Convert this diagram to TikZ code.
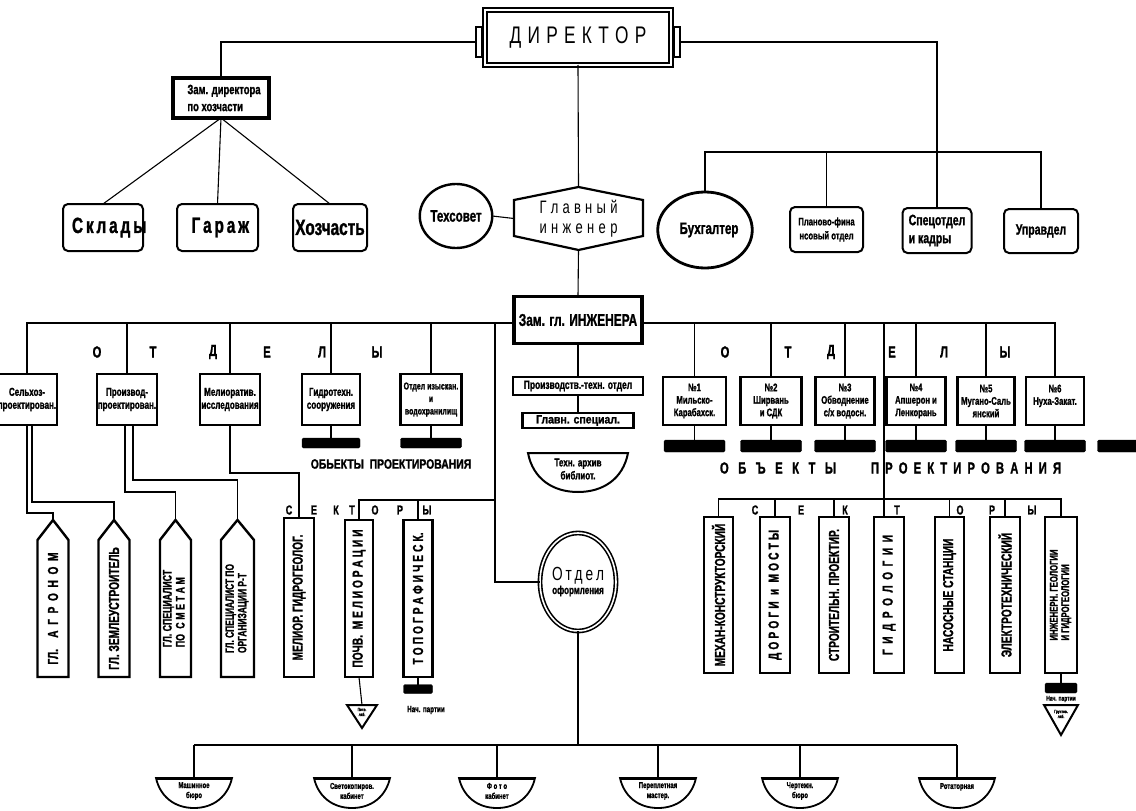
\documentclass[tikz,border=0pt]{standalone}
\usepackage{fontspec}
\usepackage{graphicx}
\newfontfamily\nar{Liberation Sans}[FakeStretch=0.72]
\newfontfamily\narb{Liberation Sans Bold}[FakeStretch=0.7, FakeBold=1.2]
\usetikzlibrary{shapes.geometric,calc}
\newcommand\fz[2]{\fontsize{#1}{#2}\selectfont}
\newcommand\spread[2]{\makebox[#1][s]{#2}}
\newcommand\mybowl[4]{%
  \coordinate (#1) at (#2,778);
  \draw[line width=1.8pt] ($(#1)+(-38,0)$) -- ($(#1)+(38,0)$) .. controls ($(#1)+(34,18)$) and ($(#1)+(20,30)$) .. ($(#1)+(0,30)$) .. controls ($(#1)+(-20,30)$) and ($(#1)+(-34,18)$) .. ($(#1)+(-38,0)$) -- cycle;
  \draw[line width=3pt] ($(#1)+(-37,0)$) -- ($(#1)+(37,0)$);
  \node[font=\narb\fz{8.5}{10}, align=center] (#1t) at ($(#1)+(0,13)$) {#3\\#4};}
\newcommand\pent[1]{%
  \draw[line width=2.4pt, line join=miter] (#1.south west) -- (#1.north west) -- ([yshift=20pt]#1.north) -- (#1.north east) -- (#1.south east) -- cycle;
  \coordinate (#1T) at ([yshift=20pt]#1.north);}
\begin{document}
\begin{tikzpicture}[x=1pt,y=-1pt,
  con/.style={line width=1.1pt},
  every node/.style={inner sep=0pt, outer sep=0pt},
  rbox/.style={draw, line width=2pt, rounded corners=5pt, align=center},
  tbox/.style={draw, line width=3.2pt, align=center},
  dbox/.style={draw, line width=2.4pt, align=center, font=\narb\fz{11.5}{13}},
  vbox/.style={draw, line width=2.4pt, font=\narb\fz{14.5}{14.5}},
  pbox/.style={font=\narb\fz{14.5}{14.5}},
  blk/.style={fill=black, draw=black, rounded corners=1.5pt},
  lt/.style={font=\narb\fz{16}{16}},
  st/.style={font=\narb\fz{13}{13}},
]
\useasboundingbox (0,0) rectangle (1136,811);
\fill[white] (0,0) rectangle (1136,811);

% ---------- top level ----------
\node[draw, line width=1.4pt, double, double distance=2.5pt, minimum width=186pt, minimum height=55pt, font=\nar\fz{24}{24}] (dir) at (578,37.5) {\spread{137pt}{Д И Р Е К Т О Р}};
\node[draw, line width=1.3pt, minimum width=6pt, minimum height=30pt] (dtl) at (479,42) {};
\node[draw, line width=1.3pt, minimum width=6pt, minimum height=30pt] (dtr) at (677,42) {};

\node[tbox, minimum width=96pt, minimum height=40pt, align=left, font=\narb\fz{13.5}{17}] (zd) at (221,98) {\hspace*{6pt}Зам. директора\\\hspace*{6pt}по хозчасти};
\node[rbox, minimum width=80pt, minimum height=47pt, font=\narb\fz{22}{22}] (skl) at (103,227.5) {\spread{62pt}{С к л а д ы}};
\node[rbox, minimum width=81pt, minimum height=47pt, font=\narb\fz{22}{22}] (gar) at (217.5,227.5) {\spread{52pt}{Г а р а ж}};
\node[rbox, minimum width=74pt, minimum height=47pt, font=\narb\fz{22}{22}] (hoz) at (330,227.5) {Хозчасть};

\node[draw, ellipse, line width=2.4pt, minimum width=60pt, minimum height=64pt, font=\narb\fz{16.5}{16.5}] (tex) at (456,216) {Техсовет};
\node[minimum width=129pt, minimum height=63pt, align=center, font=\nar\fz{18}{20}] (gi) at (578.5,218.5) {\spread{78pt}{Г л а в н ы й}\\\spread{78pt}{и н ж е н е р}};
\draw[line width=2.2pt] (gi.north) -- ([yshift=-13pt]gi.north east) -- ([yshift=14pt]gi.south east) -- (gi.south) -- ([yshift=14pt]gi.south west) -- ([yshift=-13pt]gi.north west) -- cycle;

\node[draw, ellipse, line width=2.8pt, minimum width=60pt, minimum height=76pt, font=\narb\fz{16.5}{16.5}] (buh) at (705,230) {\hspace*{8pt}Бухгалтер};
\node[rbox, minimum width=73pt, minimum height=45pt, font=\narb\fz{11}{14}] (plan) at (826.5,229.5) {Планово-фина\\нсовый отдел};
\node[rbox, minimum width=69pt, minimum height=45pt, align=left, font=\narb\fz{15}{18}] (spec) at (937,230.5) {Спецотдел\\и кадры};
\node[rbox, minimum width=74pt, minimum height=44pt, font=\narb\fz{15}{15}] (upr) at (1041,231) {Управдел};

\coordinate (rbus) at (0,152);
\draw[con] (dtl.west) -| (zd.north);
\draw[con] (dtr.east) -| (spec.north);
\draw[con] (buh.north) |- (upr.north |- rbus) -- (upr.north);
\draw[con] (plan.north) -- (plan.north |- rbus);
\draw[con] (zd.south) -- (skl.north);
\draw[con] (zd.south) -- (gar.north);
\draw[con] (zd.south) -- (hoz.north);
\draw[con] (dir.south) -- (gi.north);
\draw[con] (tex.east) -- (gi.west);

% ---------- deputy chief engineer ----------
\node[tbox, minimum width=128pt, minimum height=47pt, font=\narb\fz{17}{17}] (zgi) at (578,320) {Зам. гл. ИНЖЕНЕРА};
\draw[con] (gi.south) -- (zgi.north);
\coordinate (lbus) at (0,323);
\coordinate (ofc) at (495,323);

% left departments
\node[dbox, minimum width=60pt, minimum height=51pt] (selh) at (27,399.5) {Сельхоз-\\проектирован.};
\node[dbox, minimum width=60pt, minimum height=51pt] (proizv) at (127,399.5) {Производ-\\проектирован.};
\node[dbox, minimum width=60pt, minimum height=51pt] (melior) at (230,399.5) {Мелиоратив.\\исследования};
\node[dbox, minimum width=58pt, minimum height=51pt] (gidro) at (331,399.5) {Гидротехн.\\сооружения};
\node[dbox, minimum width=61pt, minimum height=51pt, font=\narb\fz{10}{12.5}] (izysk) at (431,399.5) {Отдел изыскан.\\и\\водохранилищ};
\draw[con] (zgi.west |- lbus) -| (selh.north);
\foreach \n in {proizv,melior,gidro,izysk} \draw[con] (\n.north) -- (\n.north |- lbus);

\node[lt] (lo) at (97,352) {О};
\node[lt] (lt2) at (153,352) {Т};
\node[lt] (ld) at (213,352) {Д};
\node[lt] (le) at (267,352) {Е};
\node[lt] (ll) at (322,352) {Л};
\node[lt] (ly) at (377,352) {Ы};

\node[blk, minimum width=58pt, minimum height=10pt] (gbar) at (331,443) {};
\node[blk, minimum width=61pt, minimum height=10pt] (ibar) at (431,443) {};
\draw[con] (gidro.south) -- (gbar.north);
\draw[con] (izysk.south) -- (ibar.north);
\node[font=\narb\fz{13.5}{13.5}] (lobj) at (391,464) {\scalebox{1.1}[1]{ОБЬЕКТЫ\ \ ПРОЕКТИРОВАНИЯ}};

% right departments
\node[dbox, minimum width=63pt, minimum height=48pt, font=\narb\fz{11}{12.5}] (n1) at (694.5,401) {№1\\Мильско-\\Карабахск.};
\node[dbox, minimum width=61pt, minimum height=48pt, font=\narb\fz{11}{12.5}] (n2) at (771,401) {№2\\Ширвань\\и СДК};
\node[dbox, minimum width=59pt, minimum height=48pt, font=\narb\fz{11}{12.5}] (n3) at (845,401) {№3\\Обводнение\\с/х водосн.};
\node[dbox, minimum width=59pt, minimum height=48pt, font=\narb\fz{11}{12.5}] (n4) at (916,401) {№4\\Апшерон и\\Ленкорань};
\node[dbox, minimum width=57pt, minimum height=48pt, font=\narb\fz{11}{12.5}] (n5) at (986,401) {№5\\Мугано-Саль\\янский};
\node[dbox, minimum width=58pt, minimum height=48pt, font=\narb\fz{11}{12.5}] (n6) at (1055,401) {№6\\Нуха-Закат.\\ };
\draw[con] (zgi.east |- lbus) -| (n6.north);
\foreach \n in {n1,n2,n3,n4,n5} \draw[con] (\n.north) -- (\n.north |- lbus);
\foreach \n/\i in {n1/1,n2/2,n3/3,n4/4,n5/5,n6/6} {
  \node[blk, minimum width=61pt, minimum height=12pt] (rb\i) at (\n.south |- 0,446) {};
  \draw[con] (\n.south) -- (rb\i.north);}
\node[blk, minimum width=45pt, minimum height=12pt] (rb7) at (1120,446) {};

\node[lt] (ro) at (725,352) {О};
\node[lt] (rt) at (788,352) {Т};
\node[lt] (rd) at (831,352) {Д};
\node[lt] (re) at (892,352) {Е};
\node[lt] (rl) at (944,352) {Л};
\node[lt] (ry) at (1005,352) {Ы};
\node[lt] (robj1) at (778,468) {\spread{116pt}{О Б Ъ Е К Т Ы}};
\node[lt] (robj2) at (966,468) {\spread{190pt}{П Р О Е К Т И Р О В А Н И Я}};

% centre column
\node[draw, line width=2.2pt, minimum width=130pt, minimum height=18pt, font=\narb\fz{12}{12}] (pto) at (578,386) {Производств.-техн. отдел};
\node[draw, line width=2.2pt, minimum width=111pt, minimum height=15pt, font=\narb\fz{12}{12}] (gs) at (578,420.5) {\scalebox{1.25}[1]{Главн. специал.}};
\draw[con] (zgi.south) -- (pto.north);
\draw[con] (pto.south) -- (gs.north);
\coordinate (arch) at (578,453);
\draw[line width=2pt] ($(arch)+(-50,0)$) -- ($(arch)+(50,0)$) .. controls ($(arch)+(45,26)$) and ($(arch)+(25,39)$) .. ($(arch)+(0,39)$) .. controls ($(arch)+(-25,39)$) and ($(arch)+(-45,26)$) .. ($(arch)+(-50,0)$) -- cycle;
\node[font=\narb\fz{11.5}{13}, align=center] (archt) at ($(arch)+(0,16)$) {Техн. архив\\библиот.};

\node[draw, ellipse, line width=1.6pt, double, double distance=1.6pt, minimum width=76pt, minimum height=98pt, align=center] (oform) at (578,582) {{\nar\fz{19}{22}\spread{52pt}{О т д е л}}\\{\narb\fz{11.5}{13}оформления}};
\draw[con] (ofc) |- (oform.west);

% ---------- left sectors ----------
\node[pbox, minimum width=31pt, minimum height=137pt] (agr) at (53,608.5) {\rotatebox{90}{\spread{112pt}{ГЛ. \  А Г Р О Н О М}}};
\node[pbox, minimum width=31pt, minimum height=137pt] (zem) at (114,608.5) {\rotatebox{90}{ГЛ. ЗЕМЛЕУСТРОИТЕЛЬ}};
\node[pbox, minimum width=31pt, minimum height=137pt, font=\narb\fz{12.5}{13}] (smet) at (175.5,608.5) {\rotatebox{90}{\begin{tabular}{@{}l@{}}ГЛ. СПЕЦИАЛИСТ\\\spread{70pt}{ПО \ С М Е Т А М}\end{tabular}}};
\node[pbox, minimum width=33pt, minimum height=137pt, font=\narb\fz{12}{12.5}] (org) at (237.5,608.5) {\rotatebox{90}{\begin{tabular}{@{}l@{}}ГЛ. СПЕЦИАЛИСТ ПО\\ОРГАНИЗАЦИИ Р-Т\end{tabular}}};
\pent{agr}\pent{zem}\pent{smet}\pent{org}
\node[vbox, minimum width=30pt, minimum height=159pt] (mg) at (299,597.5) {\rotatebox{90}{МЕЛИОР. ГИДРОГЕОЛОГ.}};
\node[vbox, minimum width=28pt, minimum height=157pt] (pochv) at (359,598.5) {\rotatebox{90}{\spread{138pt}{ПОЧВ. \ М Е Л И О Р А Ц И И}}};
\node[vbox, minimum width=29pt, minimum height=157pt] (topo) at (418,598.5) {\rotatebox{90}{\spread{132pt}{Т О П О Г Р А Ф И Ч Е С К.}}};

\draw[con] (selh.south) -- ++(0,88) -| (agrT);
\draw[con] ([xshift=5pt]selh.south) -- ++(0,77) -| (zemT);
\draw[con] ([xshift=-2pt]proizv.south) -- ++(0,67) -| (smetT);
\draw[con] ([xshift=6pt]proizv.south) -- ++(0,55) -| (orgT);
\draw[con] (melior.south) -- ++(0,48) -| (mg.north);
\coordinate (sbl) at (0,500);
\draw[con] (pochv.north) -- (pochv.north |- sbl) -- (ofc |- sbl);
\draw[con] (topo.north) -- (topo.north |- sbl);

\node[st] (sc) at (289,510) {С};
\node[st] (se) at (314,510) {Е};
\node[st] (sk) at (336,510) {К};
\node[st] (st1) at (352,510) {Т};
\node[st] (so) at (375,510) {О};
\node[st] (sr) at (400,510) {Р};
\node[st] (sy) at (427,510) {Ы};

\coordinate (ptri) at (362,705);
\draw[con] (pochv.south) -- (ptri);
\draw[line width=2pt] ($(ptri)+(-15,0)$) -- ($(ptri)+(15,0)$) -- ($(ptri)+(0,23)$) -- cycle;
\node[font=\narb\fz{4.5}{5}, align=center] (ptrit) at ($(ptri)+(0,7)$) {Почв.\\лаб.};
\node[blk, minimum width=29pt, minimum height=9pt] (tbar) at (418,689) {};
\draw[con] (topo.south) -- (tbar.north);
\node[font=\narb\fz{9}{9}] (tnach) at (426,710) {Нач. партии};

% ---------- right sectors ----------
\node[vbox, minimum width=29pt, minimum height=156pt] (mech) at (718.5,595) {\rotatebox{90}{МЕХАН-КОНСТРУКТОРСКИЙ}};
\node[vbox, minimum width=30pt, minimum height=156pt] (dor) at (775,595) {\rotatebox{90}{\spread{130pt}{Д О Р О Г И \ и \ М О С Т Ы}}};
\node[vbox, minimum width=30pt, minimum height=156pt] (str) at (834,595) {\rotatebox{90}{СТРОИТЕЛЬН. ПРОЕКТИР.}};
\node[vbox, minimum width=30pt, minimum height=156pt] (gidr) at (889,595) {\rotatebox{90}{\spread{120pt}{Г И Д Р О Л О Г И И}}};
\node[vbox, minimum width=29pt, minimum height=156pt] (nas) at (949.5,595) {\rotatebox{90}{НАСОСНЫЕ СТАНЦИИ}};
\node[vbox, minimum width=30pt, minimum height=156pt] (el) at (1005,595) {\rotatebox{90}{ЭЛЕКТРОТЕХНИЧЕСКИЙ}};
\node[vbox, minimum width=32pt, minimum height=156pt, font=\narb\fz{11}{11.5}] (inzh) at (1061,595) {\rotatebox{90}{\begin{tabular}{@{}l@{}}ИНЖЕНЕРН. ГЕОЛОГИИ\\И ГИДРОГЕОЛОГИИ\end{tabular}}};
\coordinate (sbr) at (0,499);
\draw[con] ([xshift=-5pt]gidr.north |- lbus) -- ([xshift=-5pt]gidr.north);
\draw[con] (mech.north) |- (inzh.north |- sbr) -- (inzh.north);
\foreach \n in {dor,str,nas,el} \draw[con] (\n.north) -- (\n.north |- sbr);

\node[st] (rsc) at (755,510) {С};
\node[st] (rse) at (801,510) {Е};
\node[st] (rsk) at (845,510) {К};
\node[st] (rst) at (897,510) {Т};
\node[st] (rso) at (960,510) {О};
\node[st] (rsr) at (992,510) {Р};
\node[st] (rsy) at (1032,510) {Ы};

\node[blk, minimum width=32pt, minimum height=10pt] (ibar2) at (1061,688) {};
\draw[con] (inzh.south) -- (ibar2.north);
\node[font=\narb\fz{7}{7}] (inach) at (1061,699) {Нач. партии};
\coordinate (itri) at (1061,705);
\draw[line width=2pt] ($(itri)+(-17,0)$) -- ($(itri)+(17,0)$) -- ($(itri)+(0,30)$) -- cycle;
\node[font=\narb\fz{4.5}{5}, align=center] (itrit) at ($(itri)+(0,9)$) {Грунтов.\\лаб.};

% ---------- bottom ----------
\coordinate (bb) at (0,745);
\mybowl{b1}{194}{Машинное}{бюро}
\mybowl{b2}{352}{Светокопиров.}{кабинет}
\mybowl{b3}{497}{Ф о т о}{кабинет}
\mybowl{b4}{658}{Переплетная}{мастер.}
\mybowl{b5}{800}{Чертежн.}{бюро}
\mybowl{b6}{957}{Ротаторная}{}
\draw[con] (oform.south) -- (oform.south |- bb);
\draw[con] (b1 |- bb) -- (b6 |- bb);
\foreach \n in {b1,b2,b3,b4,b5,b6} \draw[con] (\n) -- (\n |- bb);
\end{tikzpicture}
\end{document}
